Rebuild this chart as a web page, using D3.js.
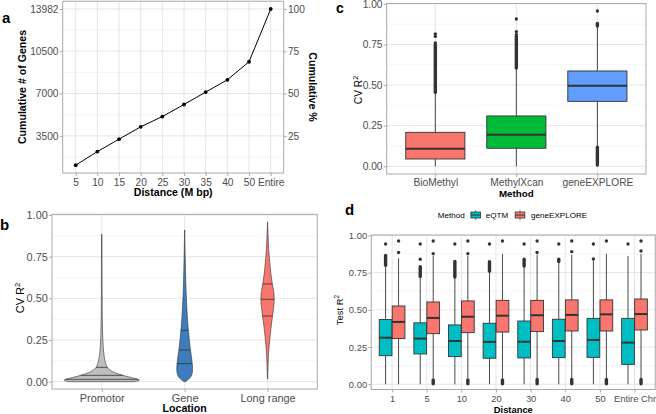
<!DOCTYPE html>
<html><head><meta charset="utf-8">
<script src="https://cdn.jsdelivr.net/npm/d3@7"></script>
<style>body{margin:0;background:#fff} svg{display:block}</style>
</head><body><svg id="chart" width="656" height="414"></svg>
<script>
// ================= DATA =================
// Panel a
const distanceLabels = ["5","10","15","20","25","30","35","40","50","Entire"];
const cumulativeGenes = [1076, 2201, 3227, 4245, 5097, 6090, 7116, 8133, 9623, 13982];
const geneTicks = [3500, 7000, 10500, 13982];
const geneMinorTicks = [1750, 5250, 8750, 12241];
const percentTicks = [25, 50, 75, 100];
const totalGenes = 13982;

// Panel b (violins): [value, relative density]
const locations = ["Promotor","Gene","Long range"];
const promotorDensity = [[0,0.87],[0.008,1.0],[0.014,0.96],[0.025,0.77],[0.038,0.56],[0.06,0.29],[0.086,0.15],[0.12,0.092],[0.15,0.066],[0.2,0.042],[0.25,0.029],[0.3,0.021],[0.4,0.013],[0.6,0.009],[0.884,0.005]];
const geneDensity = [[0,0.013],[0.02,0.13],[0.05,0.2],[0.08,0.21],[0.11,0.2],[0.15,0.18],[0.19,0.153],[0.25,0.124],[0.31,0.098],[0.37,0.077],[0.43,0.061],[0.53,0.04],[0.63,0.026],[0.73,0.016],[0.82,0.008],[0.91,0.002]];
const longRangeDensity = [[0.016,0.003],[0.07,0.011],[0.17,0.026],[0.27,0.066],[0.34,0.1],[0.394,0.132],[0.45,0.164],[0.494,0.177],[0.54,0.164],[0.586,0.127],[0.65,0.087],[0.73,0.053],[0.81,0.026],[0.91,0.008],[0.957,0.001]];
const violinQuartiles = [[0.014,0.038,0.086],[0.108,0.19,0.308],[0.394,0.494,0.586]];
const violinColors = ["#BEBEBE","#3D7DBD","#F8766D"];

// Panel c (boxplots)
const methods = ["BioMethyl","MethylXcan","geneEXPLORE"];
const cLow = [0, 0, 0.125];
const cQ1 = [0.045, 0.111, 0.40];
const cMedian = [0.108, 0.195, 0.496];
const cQ3 = [0.209, 0.31, 0.587];
const cHigh = [0.45, 0.60, 0.86];
const cOutlierRuns = [[[0.455,0.745]], [[0.605,0.79]], [[0.864,0.88],[0.008,0.118]]];
const cOutlierPoints = [[0.76,0.80,0.815], [0.80,0.81,0.829,0.907], [0.956]];
const methodColors = ["#F8766D","#00BA38","#619CFF"];

// Panel d (grouped boxplots)
const distances = ["1","5","10","20","30","40","50","Entire Chr"];
const groups = ["eQTM","geneEXPLORE"];
const groupColors = ["#00BFC4","#F8766D"];
const eqtmLow = [0,0,0,0,0,0,0,0];
const eqtmQ1 = [0.192,0.204,0.186,0.175,0.177,0.179,0.181,0.134];
const eqtmMedian = [0.313,0.307,0.291,0.285,0.286,0.291,0.298,0.28];
const eqtmQ3 = [0.435,0.413,0.399,0.41,0.425,0.437,0.443,0.443];
const eqtmHigh = [0.79,0.72,0.715,0.755,0.79,0.82,0.83,0.862];
const eqtmRuns = [[[0.80,0.865]],[[0.725,0.79]],[[0.72,0.825]],[[0.76,0.824]],[[0.795,0.84]],[[0.825,0.84]],[],[]];
const eqtmPoints = [[0.943],[0.84,0.943],[0.943],[0.943],[0.943],[0.943],[0.842,0.943],[0.943]];
const geneLow = [0,0.04,0.04,0.04,0.04,0.04,0.04,0.04];
const geneQ1 = [0.307,0.34,0.347,0.351,0.354,0.358,0.358,0.365];
const geneMedian = [0.419,0.446,0.454,0.461,0.464,0.466,0.47,0.472];
const geneQ3 = [0.526,0.553,0.56,0.564,0.564,0.567,0.567,0.573];
const geneHigh = [0.847,0.865,0.865,0.875,0.87,0.87,0.876,0.875];
const geneRuns = [[],[[0.003,0.03]],[[0.003,0.03]],[[0.003,0.03]],[[0.003,0.033]],[[0.003,0.033]],[[0.003,0.033]],[[0.003,0.033]]];
const genePoints = [[0.885,0.963],[0.878,0.963],[0.878,0.963],[0.963],[0.885,0.963],[0.891,0.963],[0.963],[0.896,0.963]];

const rTicks = [0, 0.25, 0.5, 0.75, 1];
const rMinor = [0.125, 0.375, 0.625, 0.875];

// ================= STYLE =================
const FONT = '"Liberation Sans", Arial, Helvetica, sans-serif';
const BORDER = '#a9a9a9', GRID = '#e2e2e2', GRIDMINOR = '#efefef', TICKTXT = '#4d4d4d', DARK = '#333333';
const svg = d3.select('#chart');

function frame(g, b, y, majors, minors, xs) {
  g.append('rect').attr('x', b.x0).attr('y', b.y0).attr('width', b.x1 - b.x0).attr('height', b.y1 - b.y0).attr('fill', '#fff');
  g.selectAll(null).data(minors).join('line')
    .attr('x1', b.x0).attr('x2', b.x1).attr('y1', d => y(d)).attr('y2', d => y(d))
    .attr('stroke', GRIDMINOR).attr('stroke-width', 0.6);
  g.selectAll(null).data(majors).join('line')
    .attr('x1', b.x0).attr('x2', b.x1).attr('y1', d => y(d)).attr('y2', d => y(d))
    .attr('stroke', GRID).attr('stroke-width', 0.9);
  g.selectAll(null).data(xs).join('line')
    .attr('x1', d => d).attr('x2', d => d).attr('y1', b.y0).attr('y2', b.y1)
    .attr('stroke', GRID).attr('stroke-width', 0.9);
}
function border(g, b) {
  g.append('rect').attr('x', b.x0).attr('y', b.y0).attr('width', b.x1 - b.x0).attr('height', b.y1 - b.y0)
    .attr('fill', 'none').attr('stroke', BORDER).attr('stroke-width', 1);
}
function styleAxis(sel, fs) {
  sel.attr('font-family', FONT).attr('font-size', fs);
  sel.select('.domain').remove();
  sel.selectAll('.tick line').attr('stroke', BORDER);
  sel.selectAll('.tick text').attr('fill', TICKTXT);
}
function title(g, txt, x, y, fs, bold, rot, sup) {
  const t = g.append('text').attr('transform', `translate(${x},${y}) rotate(${rot||0})`)
    .attr('text-anchor', 'middle').attr('font-family', FONT).attr('font-size', fs)
    .attr('font-weight', bold ? 'bold' : 'normal').attr('fill', '#000').text(txt);
  if (sup) t.append('tspan').attr('dy', -fs*0.38).attr('font-size', fs*0.7).text(sup);
  return t;
}
function panelLetter(txt, x, y, fs) {
  svg.append('text').attr('x', x).attr('y', y).attr('font-family', FONT).attr('font-size', fs || 15)
    .attr('font-weight', 'bold').text(txt);
}
function boxplot(g, cx, w, y, st, fill) {
  const lw = 0.9;
  g.append('line').attr('x1', cx).attr('x2', cx).attr('y1', y(st.low)).attr('y2', y(st.q1)).attr('stroke', DARK).attr('stroke-width', lw);
  g.append('line').attr('x1', cx).attr('x2', cx).attr('y1', y(st.q3)).attr('y2', y(st.high)).attr('stroke', DARK).attr('stroke-width', lw);
  g.append('rect').attr('x', cx - w/2).attr('width', w).attr('y', y(st.q3)).attr('height', y(st.q1) - y(st.q3))
    .attr('fill', fill).attr('stroke', DARK).attr('stroke-width', lw);
  g.append('line').attr('x1', cx - w/2).attr('x2', cx + w/2).attr('y1', y(st.median)).attr('y2', y(st.median))
    .attr('stroke', DARK).attr('stroke-width', 2);
  st.runs.forEach(r => g.append('line').attr('x1', cx).attr('x2', cx).attr('y1', y(r[0])).attr('y2', y(r[1]))
    .attr('stroke', DARK).attr('stroke-width', 3.4).attr('stroke-linecap', 'round'));
  g.selectAll(null).data(st.points).join('circle').attr('cx', cx).attr('cy', d => y(d)).attr('r', 1.7).attr('fill', DARK);
}

// ================= PANEL A =================
{
  const b = {x0: 62.7, x1: 283.7, y0: 1.2, y1: 173};
  const g = svg.append('g');
  const lo = d3.min(cumulativeGenes), hi = d3.max(cumulativeGenes), pad = (hi - lo) * 0.05;
  const x = d3.scalePoint().domain(distanceLabels).range([b.x0, b.x1]).padding(0.6);
  const y = d3.scaleLinear().domain([lo - pad, hi + pad]).range([b.y1, b.y0]);
  const yPct = d3.scaleLinear().domain([(lo - pad) / totalGenes * 100, (hi + pad) / totalGenes * 100]).range([b.y1, b.y0]);
  frame(g, b, y, geneTicks, geneMinorTicks, distanceLabels.map(d => x(d)));
  const pts = distanceLabels.map((d, i) => [x(d), y(cumulativeGenes[i])]);
  g.append('path').attr('d', d3.line()(pts)).attr('fill', 'none').attr('stroke', '#000').attr('stroke-width', 1);
  g.selectAll(null).data(pts).join('circle').attr('cx', d => d[0]).attr('cy', d => d[1]).attr('r', 1.9).attr('fill', '#000');
  border(g, b);
  styleAxis(g.append('g').attr('transform', `translate(${b.x0},0)`).call(d3.axisLeft(y).tickValues(geneTicks).tickSize(3).tickPadding(1.2).tickFormat(d3.format('d'))), 10.2);
  styleAxis(g.append('g').attr('transform', `translate(${b.x1},0)`).call(d3.axisRight(yPct).tickValues(percentTicks).tickSize(3).tickPadding(1.2)), 10.2);
  styleAxis(g.append('g').attr('transform', `translate(0,${b.y1})`).call(d3.axisBottom(x).tickSize(3).tickPadding(2.4)), 10.2);
  title(g, 'Distance (M bp)', (b.x0 + b.x1) / 2, 196, 10.6, true);
  title(g, 'Cumulative # of Genes', 26, 87, 10.6, true, -90);
  title(g, 'Cumulative %', 309, 87, 10.6, true, 90);
  panelLetter('a', 2, 23);
}

// ================= PANEL B =================
{
  const b = {x0: 52, x1: 317.3, y0: 214.3, y1: 389};
  const g = svg.append('g');
  const x = d3.scalePoint().domain(locations).range([b.x0, b.x1]).padding(0.6);
  const y = d3.scaleLinear().domain([-0.044, 1.004]).range([b.y1, b.y0]);
  const w = d3.scaleLinear().domain([0, 1]).range([0, 0.455 * x.step()]);
  frame(g, b, y, rTicks, rMinor, locations.map(d => x(d)));
  const profiles = [promotorDensity, geneDensity, longRangeDensity];
  locations.forEach((loc, i) => {
    const cx = x(loc), prof = profiles[i];
    const area = d3.area().curve(d3.curveMonotoneY)
      .y(d => y(d[0])).x0(d => cx - w(d[1])).x1(d => cx + w(d[1]));
    g.append('path').attr('d', area(prof)).attr('fill', violinColors[i]).attr('stroke', DARK).attr('stroke-width', 0.6);
    const vals = prof.map(d => d[0]), dens = prof.map(d => d[1]);
    const interp = d3.scaleLinear().domain(vals).range(dens);
    violinQuartiles[i].forEach(q => {
      g.append('line').attr('x1', cx - w(interp(q))).attr('x2', cx + w(interp(q))).attr('y1', y(q)).attr('y2', y(q))
        .attr('stroke', DARK).attr('stroke-width', 0.8);
    });
  });
  border(g, b);
  styleAxis(g.append('g').attr('transform', `translate(${b.x0},0)`).call(d3.axisLeft(y).tickValues(rTicks).tickSize(3).tickPadding(1.2).tickFormat(d3.format('.2f'))), 10.9);
  styleAxis(g.append('g').attr('transform', `translate(0,${b.y1})`).call(d3.axisBottom(x).tickSize(3).tickPadding(2.2)), 10.9);
  title(g, 'Location', (b.x0 + b.x1) / 2, 412, 10.6, true);
  title(g, 'CV  R', 24, 298, 11, false, -90, '2');
  panelLetter('b', 0, 230);
}

// ================= PANEL C =================
{
  const b = {x0: 386.7, x1: 646, y0: 3.5, y1: 174};
  const g = svg.append('g');
  const x = d3.scalePoint().domain(methods).range([b.x0, b.x1]).padding(0.6);
  const y = d3.scaleLinear().domain([-0.0474, 1.0025]).range([b.y1, b.y0]);
  frame(g, b, y, rTicks, rMinor, methods.map(d => x(d)));
  methods.forEach((m, i) => {
    boxplot(g, x(m), 0.73 * x.step(), y, {low: cLow[i], q1: cQ1[i], median: cMedian[i], q3: cQ3[i], high: cHigh[i],
      runs: cOutlierRuns[i], points: cOutlierPoints[i]}, methodColors[i]);
  });
  border(g, b);
  styleAxis(g.append('g').attr('transform', `translate(${b.x0},0)`).call(d3.axisLeft(y).tickValues(rTicks).tickSize(3).tickPadding(1.2).tickFormat(d3.format('.2f'))), 10.2);
  styleAxis(g.append('g').attr('transform', `translate(0,${b.y1})`).call(d3.axisBottom(x).tickSize(3).tickPadding(1.4)), 10.2);
  title(g, 'Method', (b.x0 + b.x1) / 2, 196.7, 9.8, true);
  title(g, 'CV R', 362, 90, 10.2, false, -90, '2');
  panelLetter('c', 336, 13, 14);
}

// ================= PANEL D =================
{
  const b = {x0: 371.3, x1: 655.3, y0: 235, y1: 389.5};
  const g = svg.append('g');
  const x = d3.scalePoint().domain(distances).range([b.x0, b.x1]).padding(0.6);
  const y = d3.scaleLinear().domain([-0.035, 1.003]).range([b.y1, b.y0]);
  const dodge = d3.scaleBand().domain(groups).range([-0.375 * x.step(), 0.375 * x.step()]);
  frame(g, b, y, rTicks, rMinor, distances.map(d => x(d)));
  const stats = [
    {low: eqtmLow, q1: eqtmQ1, median: eqtmMedian, q3: eqtmQ3, high: eqtmHigh, runs: eqtmRuns, points: eqtmPoints},
    {low: geneLow, q1: geneQ1, median: geneMedian, q3: geneQ3, high: geneHigh, runs: geneRuns, points: genePoints}
  ];
  distances.forEach((dist, i) => {
    groups.forEach((grp, k) => {
      const s = stats[k];
      boxplot(g, x(dist) + dodge(grp) + dodge.bandwidth() / 2, dodge.bandwidth() * 0.98, y,
        {low: s.low[i], q1: s.q1[i], median: s.median[i], q3: s.q3[i], high: s.high[i], runs: s.runs[i], points: s.points[i]},
        groupColors[k]);
    });
  });
  border(g, b);
  styleAxis(g.append('g').attr('transform', `translate(${b.x0},0)`).call(d3.axisLeft(y).tickValues(rTicks).tickSize(3).tickPadding(1.2).tickFormat(d3.format('.2f'))), 9.4);
  styleAxis(g.append('g').attr('transform', `translate(0,${b.y1})`).call(d3.axisBottom(x).tickSize(3).tickPadding(2.4)), 9.4);
  title(g, 'Distance', (b.x0 + b.x1) / 2, 413, 9.4, true);
  title(g, 'Test R', 343, 310, 9.4, false, -90, '2');
  panelLetter('d', 345, 215);

  // legend
  const lg = svg.append('g').attr('font-family', FONT).attr('font-size', 8.1);
  lg.append('text').attr('x', 437.7).attr('y', 218).attr('fill', '#000').text('Method');
  const keyX = [469.7, 514], labX = [485.7, 531];
  groups.forEach((grp, k) => {
    const kx = keyX[k], kw = 12, ky = 209, kh = 12;
    lg.append('line').attr('x1', kx + kw/2).attr('x2', kx + kw/2).attr('y1', ky + kh*0.1).attr('y2', ky + kh*0.9).attr('stroke', DARK).attr('stroke-width', 0.8);
    lg.append('rect').attr('x', kx + kw*0.1).attr('width', kw*0.8).attr('y', ky + kh*0.25).attr('height', kh*0.5)
      .attr('fill', groupColors[k]).attr('stroke', DARK).attr('stroke-width', 0.8);
    lg.append('line').attr('x1', kx + kw*0.1).attr('x2', kx + kw*0.9).attr('y1', ky + kh/2).attr('y2', ky + kh/2).attr('stroke', DARK).attr('stroke-width', 1);
    lg.append('text').attr('x', labX[k]).attr('y', 218).attr('fill', '#000').text(grp);
  });
}
</script></body></html>
